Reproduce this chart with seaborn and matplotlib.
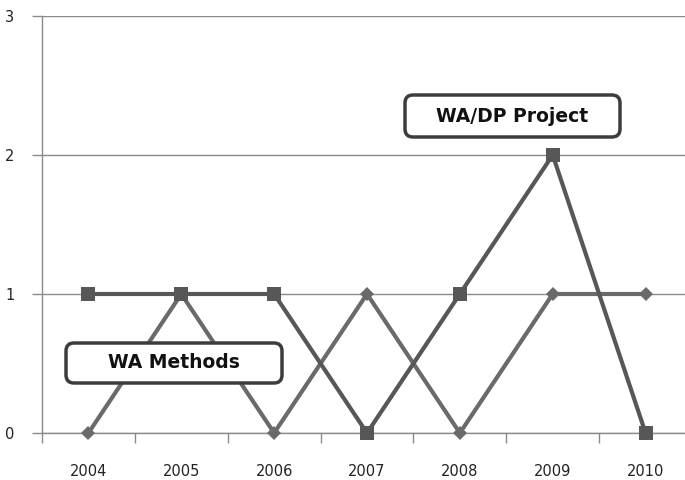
import pandas as pd
import matplotlib.pyplot as plt
import seaborn as sns
from matplotlib.patches import FancyBboxPatch

years = ["2004", "2005", "2006", "2007", "2008", "2009", "2010"]
wa_methods = [0, 1, 0, 1, 0, 1, 1]
wa_dp_project = [1, 1, 1, 0, 1, 2, 0]

df = pd.DataFrame({
    "idx": list(range(len(years))) * 2,
    "count": wa_methods + wa_dp_project,
    "series": ["WA Methods"] * len(years) + ["WA/DP Project"] * len(years),
})

sns.set_style("white")
plt.rcParams["font.family"] = ["DejaVu Sans"]

fig = plt.figure(figsize=(6.85, 4.8), dpi=100)
ax = fig.add_axes([42 / 685, 47 / 480, 650 / 685, 417 / 480])

sns.lineplot(data=df, x="idx", y="count", hue="series", style="series",
             markers={"WA Methods": "D", "WA/DP Project": "s"}, dashes=False,
             palette={"WA Methods": "#6a6a6a", "WA/DP Project": "#575757"},
             linewidth=3, markeredgewidth=0, legend=False, ax=ax, zorder=3)
# marker sizes per series
for line, ms in zip(ax.get_lines(), [7, 9.5]):
    line.set_markersize(ms)
    line.set_clip_on(False)

ax.set_xlim(-0.5, 6.5)
ax.set_ylim(0, 3)
ax.set_yticks([0, 1, 2, 3])
ax.set_xticks(range(len(years)))
ax.set_xticklabels(years)
ax.set_xticks([i - 0.5 for i in range(len(years) + 1)], minor=True)
ax.set_xlabel("")
ax.set_ylabel("")

ax.grid(axis="y", color="#8a8a8a", linewidth=1)
ax.set_axisbelow(True)
for s in ["top", "right"]:
    ax.spines[s].set_visible(False)
for s in ["left", "bottom"]:
    ax.spines[s].set_color("#8a8a8a")
    ax.spines[s].set_linewidth(1)

ax.tick_params(axis="x", which="major", length=0, pad=22, labelsize=10.5, labelcolor="#222222")
ax.tick_params(axis="x", which="minor", length=7, width=1, color="#8a8a8a", direction="out", bottom=True)
ax.tick_params(axis="y", length=7, width=1, color="#8a8a8a", direction="out", left=True,
               pad=13, labelsize=10.5, labelcolor="#222222")

# callout boxes (positions in inches from figure bottom-left)
boxes = [
    ("WA/DP Project", 4.05, 3.43, 2.15, 0.42),
    ("WA Methods", 0.66, 0.97, 2.16, 0.40),
]
for label, x0, y0, w, h in boxes:
    patch = FancyBboxPatch((x0, y0), w, h, boxstyle="round,pad=0,rounding_size=0.08",
                           transform=fig.dpi_scale_trans, facecolor="white",
                           edgecolor="#3c3c3c", linewidth=2.5, zorder=10)
    fig.add_artist(patch)
    fig.text(x0 + w / 2, y0 + h / 2, label, transform=fig.dpi_scale_trans,
             ha="center", va="center", fontsize=13.5, fontweight="bold",
             family=["DejaVu Sans"], color="#111111", zorder=11)

plt.savefig("out.png", dpi=100)
